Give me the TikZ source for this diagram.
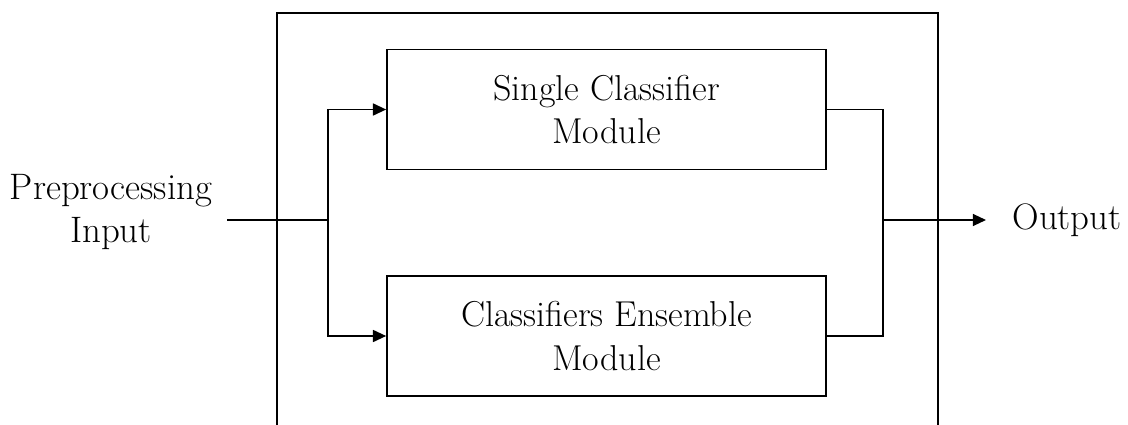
\documentclass[tikz,border=0pt]{standalone}
\usetikzlibrary{arrows.meta}
\begin{document}
\begin{tikzpicture}[mbox/.style = {shape = rectangle,
                                   draw,
                                   line width = 1.2pt,
                                   minimum width = 10.975cm,
                                   minimum height = 3cm,
                                   align = center,
                                   font = \fontsize{25.6}{31}\selectfont},
                    mtext/.style = {align = center,
                                    font = \fontsize{26.2}{30}\selectfont},
                    mline/.style = {line width = 1.2pt},
                    marrow/.style = {mline, -{Triangle[length=0.33cm, width=0.3cm]}}]
		\clip (0,0) rectangle (28.2,-10.625);
		% outer frame, open below the picture
		\draw[mline] (6.925,-11) -- (6.925,-0.325) -- (23.45,-0.325) -- (23.45,-11);
		\node[mbox] (single) at (15.1625,-2.7375) {Single Classifier\\Module};
		\node[mbox] (ensemble) at (15.1625,-8.4) {Classifiers Ensemble\\Module};
		\node[mtext] (input) at (2.775,-5.3) {Preprocessing\\Input};
		\node[mtext] (output) at (26.675,-5.5) {Output};
		\coordinate (instart) at (5.675,-5.5);
		\coordinate (split) at (8.2,-5.5);
		\coordinate (merge) at (22.075,-5.5);
		\coordinate (outend) at (24.65,-5.5);
		\draw[mline] (instart) -- (split);
		\draw[marrow] (split) |- (single.west);
		\draw[marrow] (split) |- (ensemble.west);
		\draw[mline] (single.east) -| (merge) |- (ensemble.east);
		\draw[marrow] (merge) -- (outend);
	\end{tikzpicture}
\end{document}
